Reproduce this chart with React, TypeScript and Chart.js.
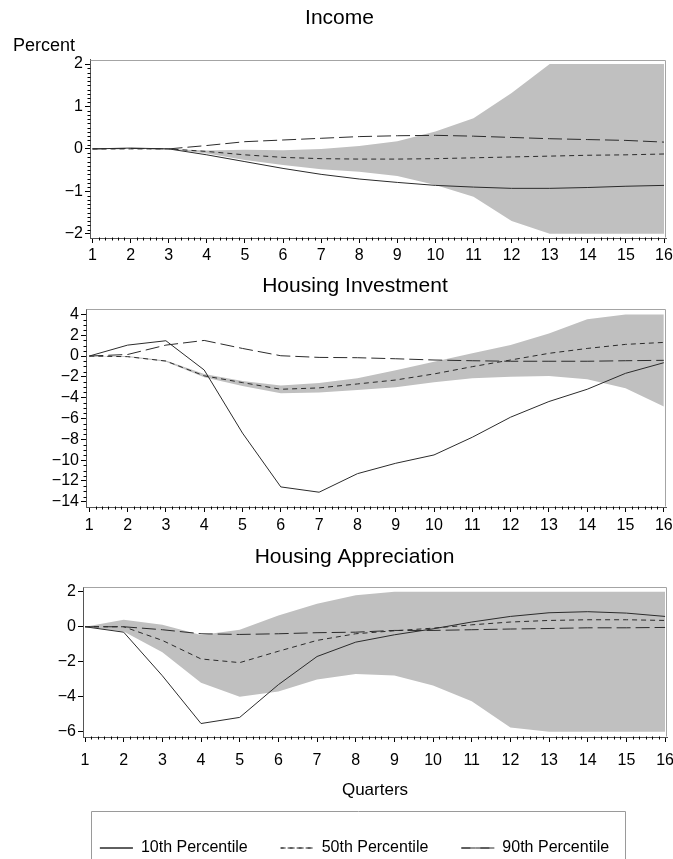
import React, { useEffect, useRef } from 'react';
import { Chart, registerables } from 'chart.js';

Chart.register(...registerables);

const FONT = 'Liberation Sans';
Chart.defaults.font.family = FONT;
Chart.defaults.color = '#000';

// ---------------- data ----------------
const quarters = [1, 2, 3, 4, 5, 6, 7, 8, 9, 10, 11, 12, 13, 14, 15, 16];
const seriesLabels = ['10th Percentile', '50th Percentile', '90th Percentile'];
const panelTitles = ['Income', 'Housing Investment', 'Housing Appreciation'];
const yAxisLabel = 'Percent';
const xAxisLabel = 'Quarters';

const incomeP10 = [0, 0.02, 0, -0.14, -0.3, -0.46, -0.6, -0.71, -0.79, -0.86, -0.9, -0.93, -0.93, -0.91, -0.88, -0.86];
const incomeP50 = [0, 0, 0, -0.06, -0.14, -0.2, -0.23, -0.24, -0.24, -0.23, -0.21, -0.19, -0.17, -0.15, -0.14, -0.12];
const incomeP90 = [0, 0.01, 0, 0.08, 0.17, 0.21, 0.25, 0.29, 0.31, 0.32, 0.3, 0.27, 0.24, 0.22, 0.2, 0.16];
const incomeBandHi = [0, 0, 0, -0.04, -0.02, -0.03, 0.0, 0.07, 0.18, 0.41, 0.72, 1.32, 2, 2, 2, 2];
const incomeBandLo = [0, 0, 0, -0.11, -0.26, -0.38, -0.48, -0.54, -0.64, -0.85, -1.13, -1.7, -2, -2, -2, -2];

const investP10 = [0, 1.05, 1.47, -1.34, -7.4, -12.57, -13.08, -11.3, -10.3, -9.5, -7.8, -5.87, -4.37, -3.19, -1.66, -0.64];
const investP50 = [0, -0.06, -0.48, -1.9, -2.55, -3.19, -3.06, -2.68, -2.3, -1.72, -1.02, -0.38, 0.26, 0.73, 1.12, 1.31];
const investP90 = [0, 0.15, 1.05, 1.5, 0.73, 0.03, -0.13, -0.16, -0.26, -0.38, -0.45, -0.5, -0.5, -0.5, -0.45, -0.41];
const investBandHi = [0, 0, -0.42, -1.72, -2.4, -2.84, -2.6, -2.14, -1.37, -0.54, 0.26, 1.05, 2.17, 3.54, 4.0, 4.0];
const investBandLo = [0, -0.1, -0.55, -2.04, -2.87, -3.57, -3.5, -3.25, -3.0, -2.52, -2.14, -1.98, -1.91, -2.23, -3.09, -4.85];

const apprecP10 = [0, -0.31, -2.8, -5.53, -5.18, -3.31, -1.7, -0.88, -0.46, -0.12, 0.27, 0.59, 0.8, 0.86, 0.78, 0.59];
const apprecP50 = [0, 0, -0.78, -1.84, -2.05, -1.4, -0.78, -0.4, -0.23, -0.08, 0.11, 0.27, 0.36, 0.4, 0.4, 0.36];
const apprecP90 = [0, 0, -0.17, -0.4, -0.44, -0.4, -0.34, -0.31, -0.21, -0.21, -0.17, -0.13, -0.1, -0.06, -0.06, -0.04];
const apprecBandHi = [0, 0.4, 0.11, -0.47, -0.17, 0.65, 1.32, 1.8, 2, 2, 2, 2, 2, 2, 2, 2];
const apprecBandLo = [0, -0.27, -1.45, -3.2, -4.0, -3.7, -3.02, -2.7, -2.79, -3.36, -4.26, -5.75, -6.0, -6.0, -6.0, -6.0];

const xTickValues = quarters;
const incomeYTicks = [-2, -1, 0, 1, 2];
const investYTicks = [-14, -12, -10, -8, -6, -4, -2, 0, 2, 4];
const apprecYTicks = [-6, -4, -2, 0, 2];

// ---------------- layout specs ----------------
type PanelSpec = {
  title: string;
  subtitle?: string;
  p10: number[]; p50: number[]; p90: number[]; hi: number[]; lo: number[];
  yTicks: number[];
  yMin: number; yMax: number; xMin: number; xMax: number;
  yDiv: number;
  left: number; top: number; w: number; h: number;
  padL: number; padR: number; yWidth: number; xHeight: number;
  titlePad: { top: number; bottom: number };
  subPad?: { top: number; bottom: number };
  xTickPad: number;
  xTitle?: string;
  legend: boolean;
};

const panels: PanelSpec[] = [
  {
    title: panelTitles[0], subtitle: yAxisLabel,
    p10: incomeP10, p50: incomeP50, p90: incomeP90, hi: incomeBandHi, lo: incomeBandLo,
    yTicks: incomeYTicks, yMin: -2.1, yMax: 2.1, xMin: 0.934, xMax: 16.052, yDiv: 10,
    left: 6, top: 0, w: 667, h: 268, padL: 7, padR: 7, yWidth: 77, xHeight: 30,
    titlePad: { top: 6, bottom: 4 }, subPad: { top: 0, bottom: 3 }, xTickPad: 3, legend: false,
  },
  {
    title: panelTitles[1],
    p10: investP10, p50: investP50, p90: investP90, hi: investBandHi, lo: investBandLo,
    yTicks: investYTicks, yMin: -14.5, yMax: 4.5, xMin: 0.914, xMax: 16.057, yDiv: 4,
    left: 0, top: 268, w: 673, h: 267, padL: 44, padR: 7, yWidth: 42, xHeight: 28,
    titlePad: { top: 6, bottom: 10 }, xTickPad: 4, legend: false,
  },
  {
    title: panelTitles[2],
    p10: apprecP10, p50: apprecP50, p90: apprecP90, hi: apprecBandHi, lo: apprecBandLo,
    yTicks: apprecYTicks, yMin: -6.3, yMax: 2.26, xMin: 0.948, xMax: 16.05, yDiv: 1,
    left: 0, top: 535, w: 673, h: 331, padL: 42, padR: 6, yWidth: 41, xHeight: 70,
    titlePad: { top: 10, bottom: 17 }, xTickPad: 9, xTitle: xAxisLabel, legend: true,
  },
];

const fmt = (v: number) => (v < 0 ? '\u2212' + Math.abs(v) : String(v));

const decorPlugin = {
  id: 'decor',
  afterDraw(chart: any, _args: any, opts: any) {
    const { ctx, chartArea: a } = chart;
    const xs = chart.scales.x;
    const ys = chart.scales.y;
    ctx.save();
    ctx.setLineDash([]);
    ctx.lineWidth = 1;
    // gray frame (top & right)
    ctx.strokeStyle = opts.frameColor;
    ctx.beginPath();
    const L = Math.round(a.left) + 0.5;
    const R = Math.round(a.right) - 0.5;
    const T = Math.round(a.top) + 0.5;
    const B = Math.round(a.bottom) - 0.5;
    ctx.moveTo(L, T);
    ctx.lineTo(R, T);
    ctx.lineTo(R, B);
    ctx.stroke();
    // minor ticks
    ctx.strokeStyle = '#000';
    ctx.beginPath();
    const xt: number[] = opts.xTicks;
    for (let i = 0; i < xt.length - 1; i++) {
      for (let k = 1; k < opts.xDiv; k++) {
        const v = xt[i] + ((xt[i + 1] - xt[i]) * k) / opts.xDiv;
        const px = Math.round(xs.getPixelForValue(v)) + 0.5;
        ctx.moveTo(px, B);
        ctx.lineTo(px, B + opts.minorLen);
      }
    }
    const yt: number[] = opts.yTicks;
    if (opts.yDiv > 1) {
      for (let i = 0; i < yt.length - 1; i++) {
        for (let k = 1; k < opts.yDiv; k++) {
          const v = yt[i] + ((yt[i + 1] - yt[i]) * k) / opts.yDiv;
          const py = Math.round(ys.getPixelForValue(v)) + 0.5;
          ctx.moveTo(L, py);
          ctx.lineTo(L - opts.minorLen, py);
        }
      }
    }
    ctx.stroke();
    // legend frame
    if (opts.legendFrame && chart.legend && chart.legend.options.display) {
      ctx.strokeStyle = '#9a9a9a';
      ctx.beginPath();
      const lt = Math.round(chart.legend.top + opts.legendFrame.offset) + 0.5;
      ctx.moveTo(opts.legendFrame.left + 0.5, chart.height + 2);
      ctx.lineTo(opts.legendFrame.left + 0.5, lt);
      ctx.lineTo(opts.legendFrame.right + 0.5, lt);
      ctx.lineTo(opts.legendFrame.right + 0.5, chart.height + 2);
      ctx.stroke();
    }
    ctx.restore();
  },
};

function buildConfig(p: PanelSpec): any {
  const pts = (arr: number[]) => quarters.map((q, i) => ({ x: q, y: arr[i] }));
  const line = (label: string, arr: number[], dash: number[]) => ({
    label,
    data: pts(arr),
    borderColor: '#2b2b2b',
    backgroundColor: 'rgba(0,0,0,0)',
    borderWidth: 1,
    borderDash: dash,
    pointRadius: 0,
    fill: false,
    tension: 0,
  });
  return {
    type: 'line',
    data: {
      datasets: [
        line(seriesLabels[0], p.p10, []),
        line(seriesLabels[1], p.p50, [5, 4]),
        line(seriesLabels[2], p.p90, [14, 5]),
        {
          label: '',
          data: pts(p.hi),
          borderColor: 'rgba(0,0,0,0)',
          backgroundColor: '#c0c0c0',
          borderWidth: 0,
          pointRadius: 0,
          fill: '+1',
          tension: 0,
        },
        {
          label: '',
          data: pts(p.lo),
          borderColor: 'rgba(0,0,0,0)',
          backgroundColor: 'rgba(0,0,0,0)',
          borderWidth: 0,
          pointRadius: 0,
          fill: false,
          tension: 0,
        },
      ],
    },
    options: {
      responsive: false,
      maintainAspectRatio: false,
      animation: false,
      events: [],
      layout: { padding: { left: p.padL, right: p.padR, top: 0, bottom: 0 } },
      scales: {
        x: {
          type: 'linear',
          min: p.xMin,
          max: p.xMax,
          afterBuildTicks: (s: any) => {
            s.ticks = xTickValues.map((v) => ({ value: v }));
          },
          afterFit: (s: any) => {
            s.height = p.xHeight;
            s.paddingLeft = 0;
            s.paddingRight = 0;
          },
          ticks: {
            font: { size: 16, family: FONT },
            color: '#000',
            padding: p.xTickPad,
            maxRotation: 0,
            autoSkip: false,
            callback: (v: number) => fmt(v),
          },
          grid: { drawOnChartArea: false, drawTicks: true, tickLength: 5, color: '#000' },
          border: { display: true, color: '#555', width: 1 },
          title: {
            display: !!p.xTitle,
            text: p.xTitle || '',
            font: { size: 17, family: FONT },
            color: '#000',
            padding: { top: 0, bottom: 6 },
          },
        },
        y: {
          type: 'linear',
          min: p.yMin,
          max: p.yMax,
          afterBuildTicks: (s: any) => {
            s.ticks = p.yTicks.map((v) => ({ value: v }));
          },
          afterFit: (s: any) => {
            s.width = p.yWidth;
            s.paddingTop = 0;
            s.paddingBottom = 0;
          },
          ticks: {
            font: { size: 16, family: FONT },
            color: '#000',
            padding: 2,
            autoSkip: false,
            callback: (v: number) => fmt(v),
          },
          grid: { drawOnChartArea: false, drawTicks: true, tickLength: 5, color: '#000' },
          border: { display: true, color: '#555', width: 1 },
        },
      },
      plugins: {
        title: {
          display: true,
          text: p.title,
          font: { size: 21, family: FONT, weight: 'normal' },
          color: '#000',
          padding: p.titlePad,
        },
        subtitle: {
          display: !!p.subtitle,
          text: p.subtitle || '',
          align: 'start',
          font: { size: 18, family: FONT, weight: 'normal' },
          color: '#000',
          padding: p.subPad || { top: 0, bottom: 0 },
        },
        legend: {
          display: p.legend,
          position: 'bottom',
          labels: {
            boxWidth: 33,
            boxHeight: 0,
            padding: 33,
            font: { size: 16, family: FONT },
            color: '#000',
            filter: (item: any) => !!item.text,
          },
        },
        tooltip: { enabled: false },
        decor: {
          frameColor: '#a4a4a4',
          xTicks: xTickValues,
          xDiv: 6,
          yTicks: p.yTicks,
          yDiv: p.yDiv,
          minorLen: 3,
          legendFrame: p.legend ? { left: 91, right: 625, offset: 4 } : null,
        },
      },
    },
    plugins: [decorPlugin],
  };
}

function PanelChart({ spec }: { spec: PanelSpec }) {
  const ref = useRef<HTMLCanvasElement>(null);
  useEffect(() => {
    if (!ref.current) return;
    const chart = new Chart(ref.current, buildConfig(spec));
    return () => chart.destroy();
  }, [spec]);
  return (
    <canvas
      ref={ref}
      width={spec.w}
      height={spec.h}
      style={{ position: 'absolute', left: spec.left, top: spec.top, width: spec.w, height: spec.h }}
    />
  );
}

export default function App() {
  return (
    <div
      style={{
        position: 'absolute',
        left: 0,
        top: 0,
        width: 673,
        height: 859,
        overflow: 'hidden',
        background: '#fff',
      }}
    >
      {panels.map((p, i) => (
        <PanelChart key={i} spec={p} />
      ))}
    </div>
  );
}
